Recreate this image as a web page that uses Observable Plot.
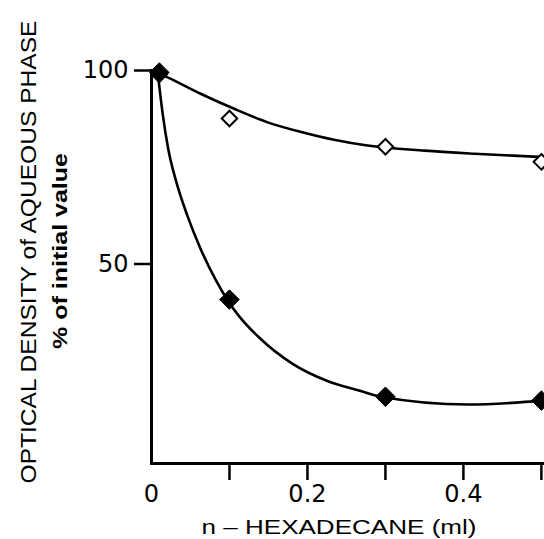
<!DOCTYPE html>
<html>
<head>
<meta charset="utf-8">
<script src="https://cdn.jsdelivr.net/npm/d3@7"></script>
<script src="https://cdn.jsdelivr.net/npm/@observablehq/plot@0.6"></script>
<style>
  html, body { margin: 0; padding: 0; background: #fff; }
  svg { display: block; }
</style>
</head>
<body>
<div id="chart"></div>
<script>
// Measured points (n-hexadecane ml vs % of initial optical density)
const xValues = [0.01, 0.1, 0.3, 0.5];
const openValues = [99, 87.6, 80.3, 76.4];
const filledValues = [99.5, 40.8, 15.7, 14.7];

// Hand-drawn fitted curves
const openCurveX = [0.008, 0.020, 0.063, 0.106, 0.149, 0.192, 0.234, 0.277, 0.35, 0.414, 0.504];
const openCurveY = [99.4, 98.3, 94.0, 90.1, 86.6, 84.1, 82.1, 80.6, 79.3, 78.5, 77.6];
const filledCurveX = [0.008, 0.0146, 0.0214, 0.032, 0.046, 0.063, 0.082, 0.099, 0.112, 0.138, 0.181, 0.224, 0.266, 0.294, 0.406, 0.504];
const filledCurveY = [99.4, 88.4, 79.8, 71.1, 62.5, 53.9, 46.0, 40.2, 36.6, 31.0, 24.2, 19.9, 17.3, 15.7, 13.7, 14.7];

// Axes
const xDomain = [0, 0.504];
const yDomain = [-1.55, 100];
const xTickMarks = [0.1, 0.2, 0.3, 0.4, 0.5];
const xTickLabels = [0, 0.2, 0.4];
const yTicks = [50, 100];
const xTitle = "n – HEXADECANE (ml)";
const yTitle1 = "OPTICAL DENSITY of AQUEOUS PHASE";
const yTitle2 = "% of initial value";

const openPts = xValues.map((x, i) => ({x, y: openValues[i]}));
const filledPts = xValues.map((x, i) => ({x, y: filledValues[i]}));
const openCurve = openCurveX.map((x, i) => ({x, y: openCurveY[i]}));
const filledCurve = filledCurveX.map((x, i) => ({x, y: filledCurveY[i]}));

const font = "DejaVu Sans, sans-serif";
const titleFont = "Liberation Sans, Arial, sans-serif";

const chart = Plot.plot({
  width: 544,
  height: 539,
  marginLeft: 151,
  marginRight: 0,
  marginTop: 70,
  marginBottom: 76,
  style: {fontFamily: font, background: "#fff", color: "#000", overflow: "visible"},
  x: {domain: xDomain},
  y: {domain: yDomain},
  marks: [
    Plot.frame({anchor: "left", stroke: "#000", strokeWidth: 3}),
    Plot.frame({anchor: "bottom", stroke: "#000", strokeWidth: 3}),
    Plot.axisY({ticks: yTicks, tickSize: 17, tickPadding: 6, fontSize: 24, label: null, strokeWidth: 2.5, tickFormat: d => String(d)}),
    Plot.axisX({ticks: xTickMarks, tickSize: 17, text: null, label: null, strokeWidth: 2.5}),
    Plot.axisX({ticks: xTickLabels, tickSize: 0, tickPadding: 21, fontSize: 24, label: null, tickFormat: d => d === 0 ? "0" : String(d)}),
    Plot.line(openCurve, {x: "x", y: "y", curve: "monotone-x", stroke: "#000", strokeWidth: 2.6}),
    Plot.line(filledCurve, {x: "x", y: "y", curve: "monotone-x", stroke: "#000", strokeWidth: 2.6}),
    Plot.dot(openPts, {x: "x", y: "y", symbol: "diamond2", r: 7, fill: "#fff", stroke: "#000", strokeWidth: 2}),
    Plot.dot(filledPts, {x: "x", y: "y", symbol: "diamond2", r: 8.8, fill: "#000", stroke: "#000", strokeWidth: 1}),
    Plot.text([xTitle], {frameAnchor: "bottom", text: d => d, dy: 64, dx: -9, fontSize: 21, fontFamily: titleFont, lineAnchor: "middle", textAnchor: "middle"}),
    Plot.text([yTitle1], {frameAnchor: "left", text: d => d, rotate: -90, dx: -123, dy: -15, fontSize: 22, fontFamily: titleFont, lineAnchor: "middle", textAnchor: "middle"}),
    Plot.text([yTitle2], {frameAnchor: "left", text: d => d, rotate: -90, dx: -91, dy: -16, fontSize: 20, fontFamily: titleFont, fontWeight: "bold", lineAnchor: "middle", textAnchor: "middle"})
  ]
});
document.getElementById("chart").appendChild(chart);

// stretch titles to the lengths seen in the reference
const lengths = new Map([[xTitle, 275], [yTitle1, 463], [yTitle2, 196]]);
d3.select(chart).selectAll("text").each(function () {
  const t = this.textContent;
  if (lengths.has(t)) {
    this.setAttribute("textLength", lengths.get(t));
    this.setAttribute("lengthAdjust", "spacingAndGlyphs");
  }
});
</script>
</body>
</html>
